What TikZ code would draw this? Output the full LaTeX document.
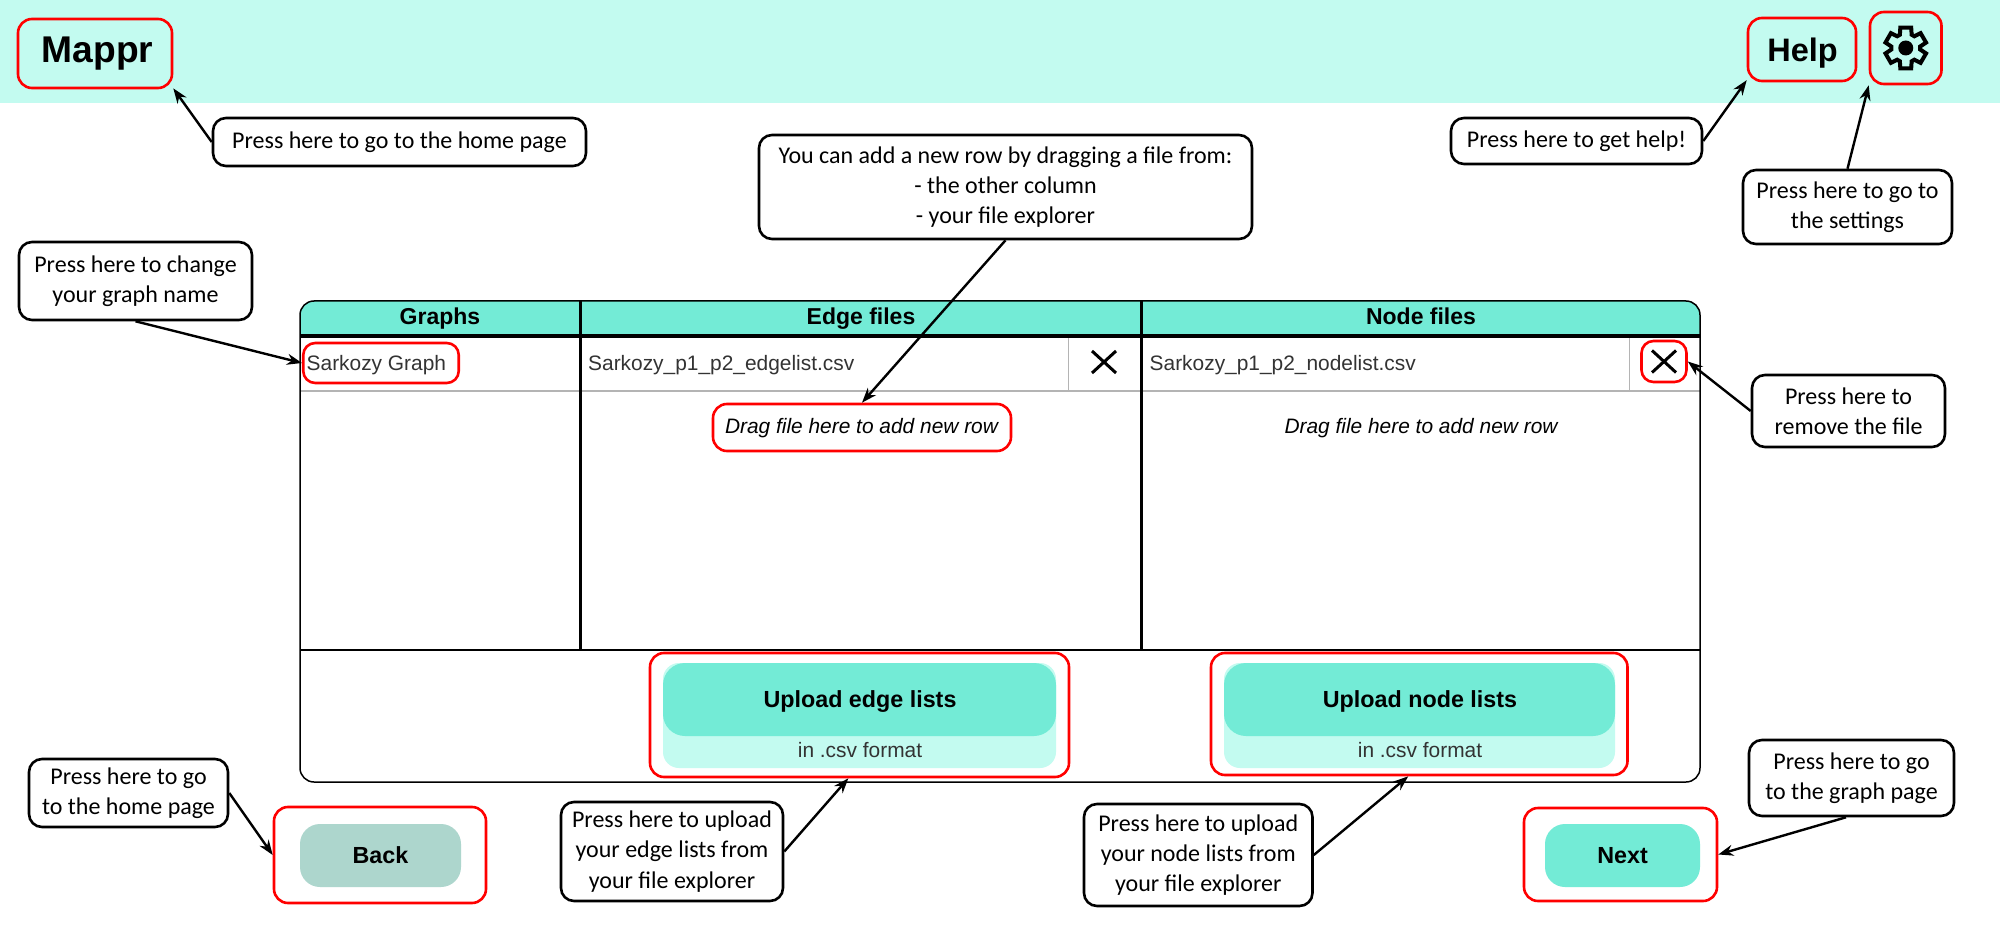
\documentclass[tikz,border=0pt]{standalone}
\usepackage{fontspec}
\setmainfont{Liberation Sans}
\newfontfamily\calfont{Carlito}
\usetikzlibrary{arrows.meta,calc}
\definecolor{band}{HTML}{C3FBF0}
\definecolor{tealm}{HTML}{73EBD6}
\definecolor{backc}{HTML}{ADD6CD}
\definecolor{rowgray}{HTML}{B4B4B4}
\definecolor{txtgray}{HTML}{333333}
\tikzset{
  redbox/.style={draw=red,line width=2.6pt,rounded corners=14pt,inner sep=0pt,align=center},
  callout/.style={draw=black,line width=2.6pt,rounded corners=13pt,fill=white,inner sep=0pt,align=center,
    font=\calfont\fontsize{24}{30.2}\selectfont},
  pointer/.style={line width=2.4pt,-{Stealth[length=15pt,width=11pt]}},
  hdr/.style={font=\bfseries\fontsize{23}{26}\selectfont,inner sep=0pt,anchor=base},
  cell/.style={font=\fontsize{20.9}{24}\selectfont,text=txtgray,inner sep=0pt,anchor=base west},
  dragt/.style={font=\itshape\fontsize{20.9}{24}\selectfont,inner sep=0pt,anchor=base},
  upt/.style={font=\bfseries\fontsize{23.3}{26}\selectfont,inner sep=0pt,anchor=base},
  subt/.style={font=\fontsize{20.9}{24}\selectfont,text=txtgray,inner sep=0pt,anchor=base},
  crossm/.style={line width=3pt,black},
}
\begin{document}
\begin{tikzpicture}[x=1pt,y=-1pt,declare function={
  gr(\k)=(mod(\k,4)<1.5)?21:14.5;
  ga(\k)=90+60*floor(\k/4)+(mod(\k,4)<0.5?-15:(mod(\k,4)<1.5?15:(mod(\k,4)<2.5?24:36)));}]
\useasboundingbox (0,0) rectangle (2000,925);
\fill[white] (0,0) rectangle (2000,925);
\fill[band] (0,0) rectangle (2000,103);
% table
\fill[tealm] (300,336) [rounded corners=14pt] -- (300,301) -- (1700,301) [sharp corners] -- (1700,336) -- cycle;
\draw[line width=2pt] (300,650) -- (1700,650);
\draw[rowgray,line width=2pt] (300,390.5) -- (1700,390.5);
\draw[rowgray,line width=1.2pt] (1068.5,336) -- (1068.5,390);
\draw[rowgray,line width=1.2pt] (1629.5,336) -- (1629.5,390);
\draw[line width=3pt] (580,301) -- (580,650);
\draw[line width=3pt] (1141.5,301) -- (1141.5,650);
\draw[line width=4pt] (300,336) -- (1700,336);
\draw[line width=1.5pt,rounded corners=14pt] (300,301) rectangle (1700,782);
\node[hdr] (hg) at (440,325) {Graphs};
\node[hdr] (he) at (861,325) {Edge files};
\node[hdr] (hn) at (1421,325) {Node files};
\node[redbox,minimum width=155.5pt,minimum height=40pt,rounded corners=12pt] (sark) at (381,363) {};
\node[cell] (sarkt) at (306.5,370.5) {Sarkozy Graph};
\node[cell] (et) at (588,370.5) {Sarkozy\_p1\_p2\_edgelist.csv};
\node[cell] (nt) at (1149.5,370.5) {Sarkozy\_p1\_p2\_nodelist.csv};
\node[minimum size=0pt,inner sep=0pt] (xe) at (1104,362) {};
\draw[crossm] ($(xe)+(-12,-11)$) -- ($(xe)+(12,11)$) ($(xe)+(-12,11)$) -- ($(xe)+(12,-11)$);
\node[redbox,minimum width=45pt,minimum height=41pt,rounded corners=12pt] (delx) at (1664,361.5) {};
\draw[crossm] ($(delx)+(-12,-11)$) -- ($(delx)+(12,11)$) ($(delx)+(-12,11)$) -- ($(delx)+(12,-11)$);
\node[redbox,minimum width=298pt,minimum height=47pt] (drag) at (862,427.5) {};
\node[dragt] (dragt1) at (861.5,433) {Drag file here to add new row};
\node[dragt] (dragn) at (1421,433) {Drag file here to add new row};
% uploads
\fill[band,rounded corners=16pt] (663,663) rectangle (1056,768);
\fill[tealm,rounded corners=22pt] (663,663) rectangle (1056,736);
\node[upt] (uet) at (860,707) {Upload edge lists};
\node[subt] (ues) at (860,757) {in .csv format};
\node[redbox,minimum width=419pt,minimum height=124pt] (upE) at (859.5,715) {};
\fill[band,rounded corners=16pt] (1224,663) rectangle (1615,768);
\fill[tealm,rounded corners=22pt] (1224,663) rectangle (1615,736);
\node[upt] (unt) at (1420,707) {Upload node lists};
\node[subt] (uns) at (1420,757) {in .csv format};
\node[redbox,minimum width=416.5pt,minimum height=122pt] (upN) at (1419.25,714) {};
% top bar
\node[redbox,minimum width=154pt,minimum height=69pt] (mappr) at (95,53.5) {};
\node[inner sep=0pt,anchor=base,font=\bfseries\fontsize{37.2}{40}\selectfont] (mapprt) at (97.5,62.5) {Mappr};
\node[redbox,minimum width=108pt,minimum height=63pt] (help) at (1802,49.5) {};
\node[inner sep=0pt,anchor=base,font=\bfseries\fontsize{32.5}{36}\selectfont] (helpt) at (1802.5,61.5) {Help};
\node[redbox,minimum width=71.5pt,minimum height=72pt] (gear) at (1905.75,48) {};
\begin{scope}[shift={(gear.center)}]
\draw[line width=4pt,line join=miter]
  plot[samples at={0,...,23},variable=\k] ({gr(\k)*cos(ga(\k))},{gr(\k)*sin(ga(\k))}) -- cycle;
\fill (0,0) circle (7.5);
\end{scope}
% buttons
\node[redbox,minimum width=212pt,minimum height=96pt] (back) at (380,855) {};
\node[fill=backc,rounded corners=20pt,minimum width=161pt,minimum height=63pt,inner sep=0pt] (backb) at (380.5,855.5) {};
\node[upt] (backt) at (380.5,863) {Back};
\node[redbox,minimum width=193pt,minimum height=93pt] (next) at (1620.5,854.5) {};
\node[fill=tealm,rounded corners=20pt,minimum width=155pt,minimum height=63pt,inner sep=0pt] (nextb) at (1622.5,855.5) {};
\node[upt] (nextt) at (1622.5,863) {Next};
% callouts
\node[callout,minimum width=373pt,minimum height=48pt] (chome) at (399.5,142) {Press here to go to the home page};
\node[callout,minimum width=233pt,minimum height=78pt] (cname) at (135.5,281) {Press here to change\\your graph name};
\node[callout,minimum width=493pt,minimum height=104pt] (ctop) at (1005.5,187) {You can add a new row by dragging a file from:\\- the other column\\- your file explorer};
\node[callout,minimum width=251pt,minimum height=46pt] (chelp) at (1576.5,141) {Press here to get help!};
\node[callout,minimum width=209pt,minimum height=74pt] (cset) at (1847.5,207) {Press here to go to\\the settings};
\node[callout,minimum width=193pt,minimum height=72pt] (crem) at (1848.5,411) {Press here to\\remove the file};
\node[callout,minimum width=199pt,minimum height=68pt] (cback) at (128.5,793) {Press here to go\\to the home page};
\node[callout,minimum width=222pt,minimum height=99pt] (cue) at (672,851.5) {Press here to upload\\your edge lists from\\your file explorer};
\node[callout,minimum width=228.5pt,minimum height=102pt] (cun) at (1198.25,855) {Press here to upload\\your node lists from\\your file explorer};
\node[callout,minimum width=205pt,minimum height=76pt] (cgraph) at (1851.5,778) {Press here to go\\to the graph page};
% pointers
\draw[pointer] (chome.west) -- (mappr.-24.7);
\draw[pointer] (cname.south) -- (sark.west);
\draw[pointer] (ctop.south) -- (drag.north);
\draw[pointer] (chelp.east) -- (help.209.5);
\draw[pointer] (cset.north) -- (gear.south west);
\draw[pointer] (crem.west) -- (delx.east);
\draw[pointer] (cback.east) -- (back.west);
\draw[pointer] (cue.east) -- (upE.260);
\draw[pointer] (cun.east) -- (upN.260);
\draw[pointer] (cgraph.262) -- (next.east);
\end{tikzpicture}
\end{document}
